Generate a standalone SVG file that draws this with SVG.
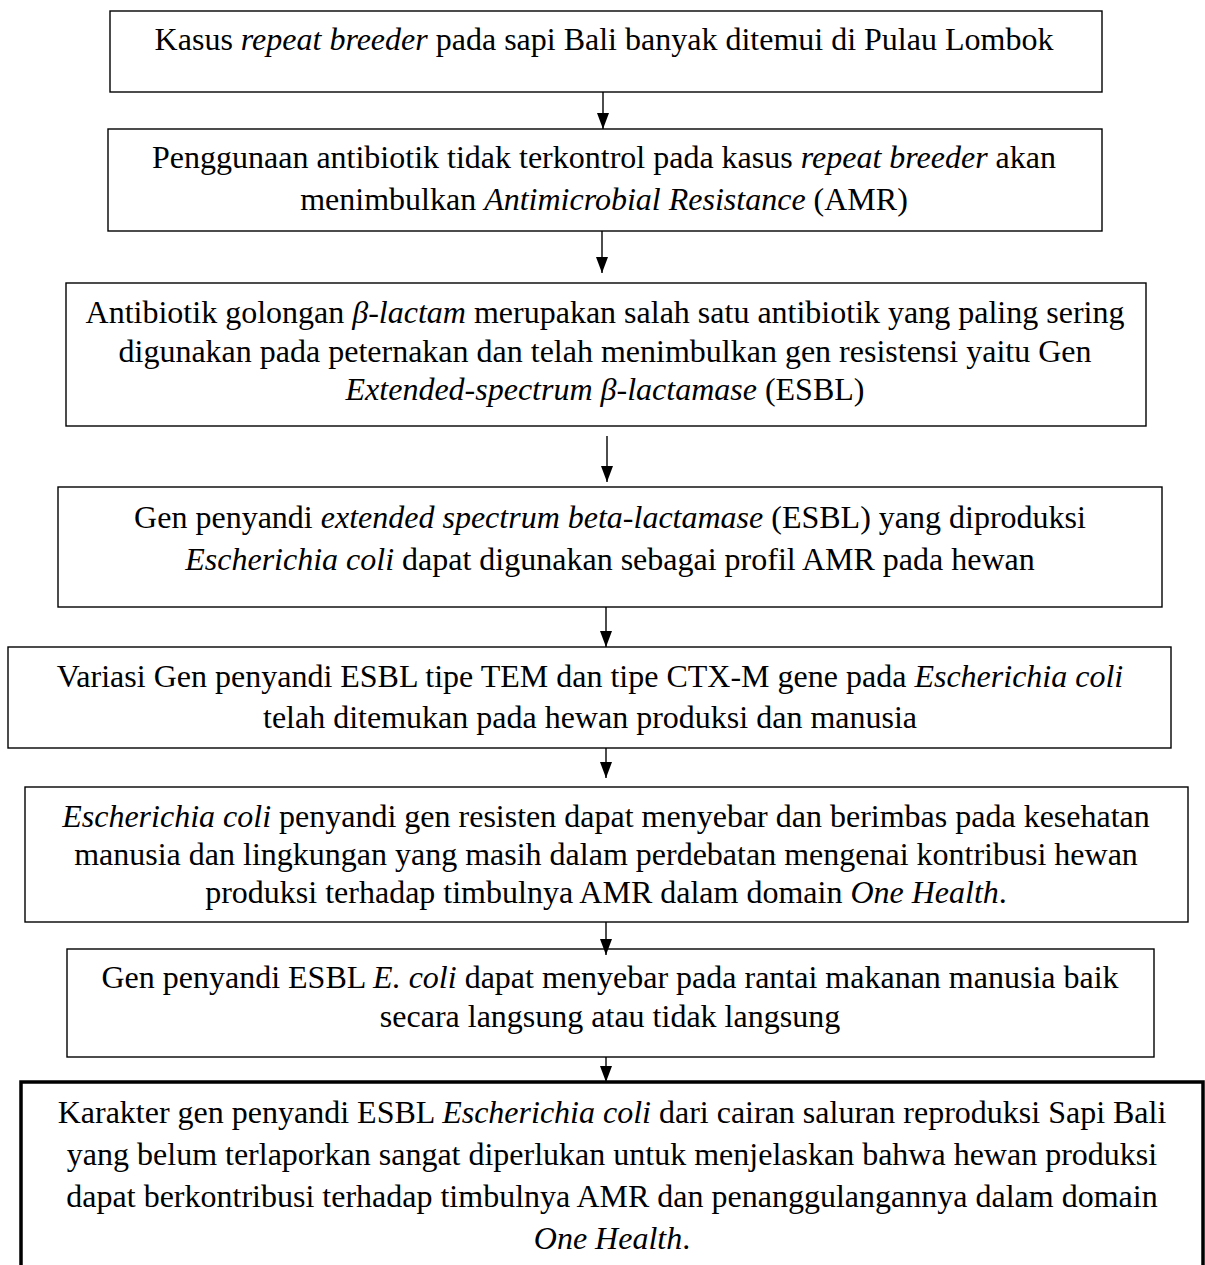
<svg xmlns="http://www.w3.org/2000/svg" width="1205" height="1265" viewBox="0 0 1205 1265">
<style>
.box{fill:#fff;stroke:#000;stroke-width:1.4}
.bold{fill:#fff;stroke:#000;stroke-width:3.5}
text{font-family:"Liberation Serif","Times New Roman",serif;font-size:32px;fill:#000;text-anchor:middle}
.i{font-style:italic}
.conn line{stroke:#000;stroke-width:1.4}
</style>
<defs>
<marker id="ah" markerUnits="userSpaceOnUse" markerWidth="17" markerHeight="13" refX="16" refY="6" orient="auto">
<path d="M0,0 L16,6 L0,12 z" fill="#000"/>
</marker>
</defs>
<rect width="1205" height="1265" fill="#fff"/>
<g id="n1">
<rect class="box" x="110" y="11" width="992" height="81"/>
<text x="604" y="50">Kasus <tspan class="i">repeat breeder</tspan> pada sapi Bali banyak ditemui di Pulau Lombok</text>
</g>
<g id="n2">
<rect class="box" x="108" y="129" width="994" height="102"/>
<text x="604" y="168">Penggunaan antibiotik tidak terkontrol pada kasus <tspan class="i">repeat breeder</tspan> akan</text>
<text x="604" y="210">menimbulkan <tspan class="i">Antimicrobial Resistance</tspan> (AMR)</text>
</g>
<g id="n3">
<rect class="box" x="66" y="283" width="1080" height="143"/>
<text x="605" y="323">Antibiotik golongan <tspan class="i">β-lactam</tspan> merupakan salah satu antibiotik yang paling sering</text>
<text x="605" y="362">digunakan pada peternakan dan telah menimbulkan gen resistensi yaitu Gen</text>
<text x="605" y="400"><tspan class="i">Extended-spectrum β-lactamase</tspan> (ESBL)</text>
</g>
<g id="n4">
<rect class="box" x="58" y="487" width="1104" height="120"/>
<text x="610" y="528">Gen penyandi <tspan class="i">extended spectrum beta-lactamase</tspan> (ESBL) yang diproduksi</text>
<text x="610" y="570"><tspan class="i">Escherichia coli</tspan> dapat digunakan sebagai profil AMR pada hewan</text>
</g>
<g id="n5">
<rect class="box" x="8" y="647" width="1163" height="101"/>
<text x="590" y="687">Variasi Gen penyandi ESBL tipe TEM dan tipe CTX-M gene pada <tspan class="i">Escherichia coli</tspan></text>
<text x="590" y="728">telah ditemukan pada hewan produksi dan manusia</text>
</g>
<g id="n6">
<rect class="box" x="25" y="787" width="1163" height="135"/>
<text x="606" y="827"><tspan class="i">Escherichia coli</tspan> penyandi gen resisten dapat menyebar dan berimbas pada kesehatan</text>
<text x="606" y="865">manusia dan lingkungan yang masih dalam perdebatan mengenai kontribusi hewan</text>
<text x="606" y="903">produksi terhadap timbulnya AMR dalam domain <tspan class="i">One Health</tspan>.</text>
</g>
<g id="n7">
<rect class="box" x="67" y="949" width="1087" height="108"/>
<text x="610" y="988">Gen penyandi ESBL <tspan class="i">E. coli</tspan> dapat menyebar pada rantai makanan manusia baik</text>
<text x="610" y="1027">secara langsung atau tidak langsung</text>
</g>
<g id="n8">
<rect class="bold" x="21" y="1082" width="1182" height="200"/>
<text x="612" y="1123">Karakter gen penyandi ESBL <tspan class="i">Escherichia coli</tspan> dari cairan saluran reproduksi Sapi Bali</text>
<text x="612" y="1165">yang belum terlaporkan sangat diperlukan untuk menjelaskan bahwa hewan produksi</text>
<text x="612" y="1207">dapat berkontribusi terhadap timbulnya AMR dan penanggulangannya dalam domain</text>
<text x="612" y="1249"><tspan class="i">One Health</tspan>.</text>
</g>
<g id="connectors" class="conn">
<line x1="603" y1="92" x2="603" y2="129" marker-end="url(#ah)"/>
<line x1="602" y1="231" x2="602" y2="273" marker-end="url(#ah)"/>
<line x1="607" y1="436" x2="607" y2="482" marker-end="url(#ah)"/>
<line x1="606" y1="607" x2="606" y2="647" marker-end="url(#ah)"/>
<line x1="606" y1="748" x2="606" y2="778" marker-end="url(#ah)"/>
<line x1="606" y1="922" x2="606" y2="955" marker-end="url(#ah)"/>
<line x1="606" y1="1057" x2="606" y2="1082" marker-end="url(#ah)"/>
</g>
</svg>
